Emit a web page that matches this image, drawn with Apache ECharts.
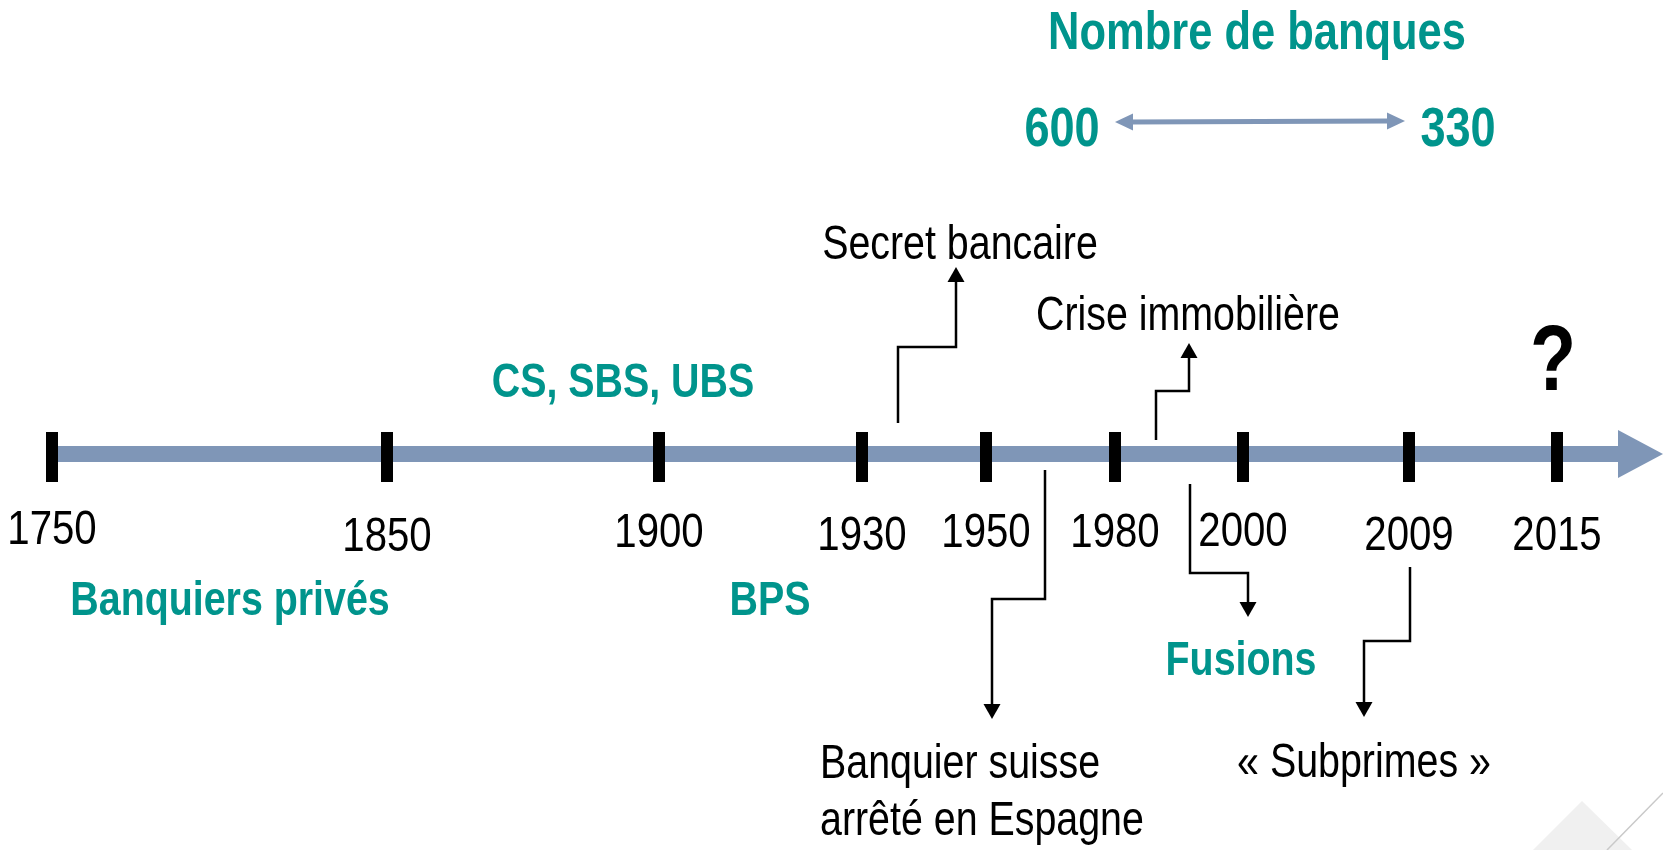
<!DOCTYPE html>
<html>
<head>
<meta charset="utf-8">
<title>Nombre de banques - frise</title>
<script src="https://cdn.jsdelivr.net/npm/echarts@6/dist/echarts.min.js"></script>
<style>
  html, body { margin: 0; padding: 0; background: #fff; }
  #chart { width: 1663px; height: 850px; }
</style>
</head>
<body>
<div id="chart"></div>
<script>
// repère de la frise : 1 unité = 10 px, la ligne du temps est sur y = 0
const years = ['1750', '1850', '1900', '1930', '1950', '1980', '2000', '2009', '2015'];
const yearPos = [5.2, 38.7, 65.9, 86.2, 98.6, 111.5, 124.3, 140.9, 155.7];
const yearLabelY = [-7.6, -8.3, -7.9, -8.2, -7.9, -7.9, -7.8, -8.2, -8.2];

const phases = ['Banquiers privés', 'CS, SBS, UBS', 'BPS', 'Fusions'];
const phasePos = [[23.0, -14.8], [62.3, 7.0], [77.0, -14.8], [124.1, -20.8]];

const events = ['Secret bancaire', 'Crise immobilière', 'Banquier suisse\narrêté en Espagne', '« Subprimes »'];
const eventPos = [[96.0, 20.8], [118.8, 13.7], [82.0, -33.9], [136.4, -31.0]];

// flèches coudées, le dernier point est la pointe
const eventArrows = [
  [[89.8, 3.1], [89.8, 10.7], [95.6, 10.7], [95.6, 18.7]],
  [[115.6, 1.4], [115.6, 6.3], [118.9, 6.3], [118.9, 11.1]],
  [[104.5, -1.6], [104.5, -14.5], [99.2, -14.5], [99.2, -26.5]],
  [[119.0, -3.0], [119.0, -11.9], [124.8, -11.9], [124.8, -16.3]],
  [[141.0, -11.3], [141.0, -18.7], [136.4, -18.7], [136.4, -26.3]]
];

const bankTitle = 'Nombre de banques';
const bankTitlePos = [125.7, 42.0];
const bankCounts = [600, 330];
const bankCountPos = [[106.2, 32.3], [145.8, 32.3]];
const bankArrow = [[111.5, 33.2], [140.5, 33.3]];

const futureMark = '?';
const futurePos = [155.3, 8.9];

const timeline = [[5.2, 0], [166.3, 0]];

// pas de police "Narrow" installée : on condense la Liberation Sans
const SANS = "'Liberation Sans', Arial, sans-serif";
const NARROW_X = 0.82;
const TEAL = '#00948c';
const AXIS = '#7f96b7';

const chart = echarts.init(document.getElementById('chart'));

function textSeries(name, items, st) {
  return {
    type: 'custom',
    name: name,
    coordinateSystem: 'cartesian2d',
    data: items.map(it => it.value),
    silent: true,
    z: 5,
    renderItem: function (params, api) {
      const it = items[params.dataIndex];
      const s = Object.assign({}, st, it.style || {});
      const p = api.coord(it.value);
      return {
        type: 'text',
        x: p[0],
        y: p[1],
        scaleX: NARROW_X,
        style: {
          text: it.name,
          fill: s.color,
          fontFamily: SANS,
          fontSize: s.fontSize,
          fontWeight: s.fontWeight || 'normal',
          lineHeight: s.lineHeight,
          align: s.align || 'center',
          verticalAlign: 'middle'
        }
      };
    }
  };
}

function head(tip, from, len, half) {
  const dx = tip[0] - from[0], dy = tip[1] - from[1];
  const d = Math.hypot(dx, dy) || 1;
  const ux = dx / d, uy = dy / d;
  const bx = tip[0] - ux * len, by = tip[1] - uy * len;
  return {
    base: [bx + ux * 2, by + uy * 2],
    poly: [tip, [bx - uy * half, by + ux * half], [bx + uy * half, by - ux * half]]
  };
}

function arrowSeries(name, paths, st) {
  return {
    type: 'custom',
    name: name,
    coordinateSystem: 'cartesian2d',
    data: paths.map(p => p[0]),
    silent: true,
    z: st.z || 3,
    renderItem: function (params, api) {
      const pts = paths[params.dataIndex].map(p => api.coord(p));
      const children = [];
      const n = pts.length;
      const hEnd = head(pts[n - 1], pts[n - 2], st.len, st.half);
      children.push({ type: 'polygon', shape: { points: hEnd.poly }, style: { fill: st.color } });
      pts[n - 1] = hEnd.base;
      if (st.both) {
        const hStart = head(pts[0], pts[1], st.len, st.half);
        children.push({ type: 'polygon', shape: { points: hStart.poly }, style: { fill: st.color } });
        pts[0] = hStart.base;
      }
      children.unshift({
        type: 'polyline',
        shape: { points: pts },
        style: { stroke: st.color, lineWidth: st.width, fill: null, lineJoin: 'miter', lineCap: 'butt' }
      });
      return { type: 'group', children: children };
    }
  };
}

const option = {
  backgroundColor: '#fff',
  animation: false,
  grid: { left: 0, right: 0, top: 0, bottom: 0 },
  xAxis: { type: 'value', min: 0, max: 166.3, show: false },
  yAxis: { type: 'value', min: -39.6, max: 45.4, show: false },
  graphic: [
    // décor de la diapositive, coin bas droit
    { type: 'polygon', shape: { points: [[1533, 850], [1582, 801], [1632, 850]] }, style: { fill: '#f0f0f0' }, z: -1 },
    { type: 'line', shape: { x1: 1663, y1: 793, x2: 1607, y2: 850 }, style: { stroke: '#c9c9c9', lineWidth: 1.5 }, z: -1 }
  ],
  series: [
    arrowSeries('frise', [timeline], { color: AXIS, width: 16, len: 45, half: 24, z: 1 }),
    {
      type: 'scatter',
      name: 'années',
      data: yearPos.map(x => [x, -0.3]),
      symbol: 'rect',
      symbolSize: [12, 50],
      itemStyle: { color: '#000', opacity: 1 },
      silent: true,
      z: 4
    },
    textSeries('étiquettes années', yearPos.map((x, i) => ({ name: years[i], value: [x, yearLabelY[i]] })), {
      fontSize: 49, color: '#000'
    }),
    arrowSeries('flèches événements', eventArrows, { color: '#000', width: 2.5, len: 15, half: 8.5 }),
    textSeries('événements', events.map((t, i) => ({
      name: t,
      value: eventPos[i],
      style: i === 2 ? { align: 'left', lineHeight: 57 } : null
    })), { fontSize: 48, color: '#000' }),
    textSeries('phases', phases.map((t, i) => ({ name: t, value: phasePos[i] })), {
      fontSize: 48, fontWeight: 'bold', color: TEAL
    }),
    textSeries('titre', [{ name: bankTitle, value: bankTitlePos }], {
      fontSize: 53, fontWeight: 'bold', color: TEAL
    }),
    textSeries('nombre de banques', bankCounts.map((v, i) => ({ name: String(v), value: bankCountPos[i] })), {
      fontSize: 55, fontWeight: 'bold', color: TEAL
    }),
    arrowSeries('évolution', [bankArrow], { color: AXIS, width: 5, len: 18, half: 8.5, both: true }),
    textSeries('avenir', [{ name: futureMark, value: futurePos }], {
      fontSize: 92, fontWeight: 'bold', color: '#000'
    })
  ]
};

chart.setOption(option);
</script>
</body>
</html>
